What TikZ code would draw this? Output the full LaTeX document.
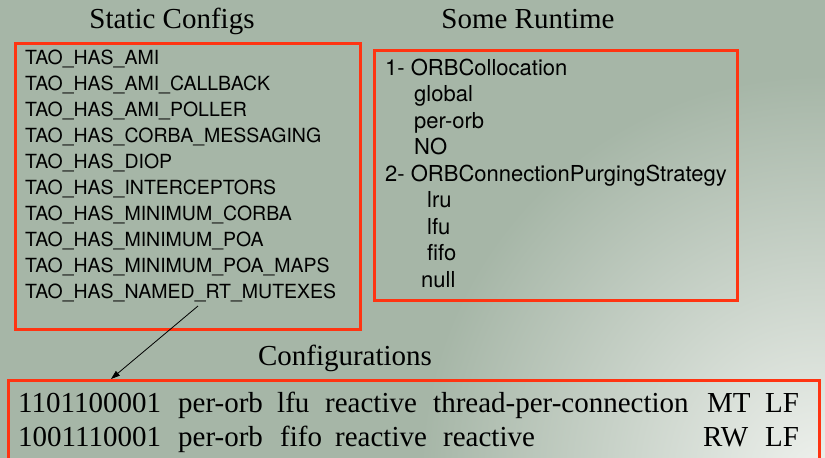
\documentclass[tikz,border=0pt]{standalone}
\usepackage{fontspec}
\setmainfont{Liberation Serif}
\newfontfamily\hv{TeX Gyre Heros}
\usetikzlibrary{arrows.meta,calc}
\definecolor{bgc}{RGB}{166,182,167}
\definecolor{glow}{RGB}{238,241,237}
\definecolor{redbox}{RGB}{255,52,18}
\tikzset{
  box/.style={draw=redbox, line width=2.5pt, inner sep=0pt},
  title/.style={anchor=base, inner sep=0pt, font=\fontsize{29}{29}\selectfont},
  litem/.style={anchor=base west, inner sep=0pt, font=\hv\fontsize{19.5}{19.5}\selectfont},
  ritem/.style={anchor=base west, inner sep=0pt, font=\hv\fontsize{22}{22}\selectfont},
  citem/.style={anchor=base west, inner sep=0pt, font=\fontsize{29}{29}\selectfont},
  conn/.style={draw=black, line width=0.8pt, -{Triangle[length=9pt,width=6pt]}}
}
\begin{document}
\begin{tikzpicture}[x=1pt,y=-1pt]
\useasboundingbox (0,0) rectangle (825,458);
\clip (0,0) rectangle (825,458);
\fill[bgc] (0,0) rectangle (825,458);
\shade[inner color=glow, outer color=bgc] (820,475) circle (400);
% titles
\node[title] (t1) at (172,28) {Static Configs};
\node[title] (t2) at (528,28) {Some Runtime};
\node[title] (t3) at (345,365) {Configurations};
% boxes
\node[box, minimum width=345pt, minimum height=286pt, anchor=north west] (sbox) at (14,42) {};
\node[box, minimum width=363pt, minimum height=250pt, anchor=north west] (rbox) at (373,49) {};
\node[box, minimum width=811pt, minimum height=100pt, anchor=north west] (cbox) at (7,379) {};
% left list
\node[litem] (l1) at (25,64) {TAO\_HAS\_AMI};
\node[litem] (l2) at (25,90) {TAO\_HAS\_AMI\_CALLBACK};
\node[litem] (l3) at (25,116) {TAO\_HAS\_AMI\_POLLER};
\node[litem] (l4) at (25,142) {TAO\_HAS\_CORBA\_MESSAGING};
\node[litem] (l5) at (25,168) {TAO\_HAS\_DIOP};
\node[litem] (l6) at (25,194) {TAO\_HAS\_INTERCEPTORS};
\node[litem] (l7) at (25,220) {TAO\_HAS\_MINIMUM\_CORBA};
\node[litem] (l8) at (25,246) {TAO\_HAS\_MINIMUM\_POA};
\node[litem] (l9) at (25,272) {TAO\_HAS\_MINIMUM\_POA\_MAPS};
\node[litem] (l10) at (25,298) {TAO\_HAS\_NAMED\_RT\_MUTEXES};
% right list
\node[ritem] (r1) at (385,75) {1- ORBCollocation};
\node[ritem] (r2) at (414,101.5) {global};
\node[ritem] (r3) at (414,128) {per-orb};
\node[ritem] (r4) at (414,154.5) {NO};
\node[ritem] (r5) at (385,181) {2- ORBConnectionPurgingStrategy};
\node[ritem] (r6) at (427,207.5) {lru};
\node[ritem] (r7) at (427,234) {lfu};
\node[ritem] (r8) at (427,260.5) {fifo};
\node[ritem] (r9) at (421,287) {null};
% configurations
\node[citem] (a1) at (18,412) {1101100001};
\node[citem] (a2) at (178,412) {per-orb};
\node[citem] (a3) at (277,412) {lfu};
\node[citem] (a4) at (325,412) {reactive};
\node[citem] (a5) at (433,412) {thread-per-connection};
\node[citem] (a6) at (707,412) {MT};
\node[citem] (a7) at (765,412) {LF};
\node[citem] (b1) at (18,446) {1001110001};
\node[citem] (b2) at (178,446) {per-orb};
\node[citem] (b3) at (280,446) {fifo};
\node[citem] (b4) at (335,446) {reactive};
\node[citem] (b5) at (443,446) {reactive};
\node[citem] (b6) at (703,446) {RW};
\node[citem] (b7) at (765,446) {LF};
% connector
\coordinate (astart) at (198,306);
\coordinate (aend) at ($(cbox.north west)+(104,0)$);
\draw[conn] (astart) -- (aend);
\end{tikzpicture}
\end{document}
